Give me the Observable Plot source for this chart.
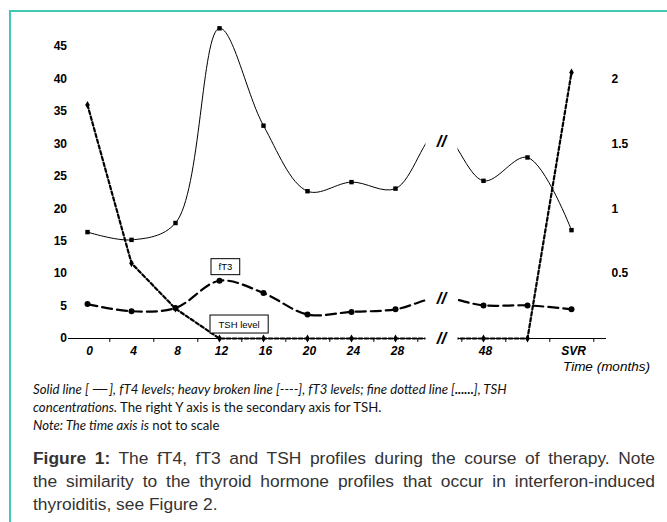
<!DOCTYPE html>
<html><head><meta charset="utf-8">
<script src="https://cdn.jsdelivr.net/npm/d3@7"></script>
<script src="https://cdn.jsdelivr.net/npm/@observablehq/plot@0.6"></script>
<style>
html,body{margin:0;padding:0;background:#fff}
body{width:667px;height:522px;overflow:hidden;position:relative;font-family:"Liberation Sans",Arial,sans-serif}
#frame{position:absolute;left:9px;top:10px;width:670px;height:530px;border-top:2px solid #40c8b4;border-left:2px solid #40c8b4;z-index:5;pointer-events:none}
#chart{position:absolute;left:0;top:0}
#xlabel{position:absolute;left:563px;top:359px;font-size:13.5px;font-style:italic;color:#000;white-space:nowrap}
#notes{position:absolute;left:33px;top:380px;font-family:Lato,"Open Sans",sans-serif;font-size:13.2px;line-height:18px;color:#111;white-space:nowrap}
#notes .dash{letter-spacing:-3px;margin-right:4px}
#caption{position:absolute;left:33px;top:447px;width:622px;font-size:17.4px;line-height:23px;color:#333}
#caption div{text-align:justify;text-align-last:justify;white-space:nowrap}
#caption div.last{text-align:left;text-align-last:left}
</style></head>
<body>
<div id="chart"></div>
<div id="xlabel">Time (months)</div>
<div id="notes">
<div><i>Solid line [ <span class="dash">——</span>], fT4 levels; heavy broken line [----], fT3 levels; fine dotted line [<b>......</b>], TSH</i></div>
<div><i>concentrations.</i> The right Y axis is the secondary axis for TSH.</div>
<div><i>Note: The time axis is</i> not to scale</div>
</div>
<div id="caption">
<div><b>Figure 1:</b> The fT4, fT3 and TSH profiles during the course of therapy. Note</div>
<div>the similarity to the thyroid hormone profiles that occur in interferon-induced</div>
<div class="last">thyroiditis, see Figure 2.</div>
</div>
<div id="frame"></div>
<script>
// Time points (ordinal, not to scale); "gap" is the axis break
const months = ["0","4","8","12","16","20","24","28","gap","48","52","SVR"];
const monthLabels = ["0","4","8","12","16","20","24","28","","48","","SVR"];
// fT4 (left axis), solid line
const fT4 = [16.4,15.2,17.8,47.8,32.8,22.7,24.1,23.1,32,24.3,27.9,16.7];
// fT3 (left axis), heavy broken line
const fT3 = [5.3,4.2,4.7,8.9,7.0,3.7,4.1,4.5,6.3,5.1,5.1,4.5];
// TSH (right axis), fine dotted line
const tsh = [1.8,0.58,0.23,0,0,0,0,0,0,0,0,2.05];
const leftTicks = [0,5,10,15,20,25,30,35,40,45];
const rightTicks = [0.5,1,1.5,2];
const rightToLeft = 20; // 1 unit on the right axis = 20 units on the left axis
// break marker levels (left-axis units)
const breakLevels = [30.3, 6.2, 0];
// annotation boxes
const notes = [{m:"12", y:11.0, label:"fT3"},{m:"12", y:2.16, label:"TSH level"}];

const rows = months.map((m,i)=>({m, fT4:fT4[i], fT3:fT3[i], tsh:tsh[i]*rightToLeft}));
const shown = rows.filter(d=>d.m!=="gap");

const chart = Plot.plot({
  width:667, height:375,
  marginLeft:68, marginRight:61, marginTop:46, marginBottom:37,
  style:{fontFamily:"'Liberation Sans', Arial, sans-serif", fontSize:"12px", color:"#000", background:"transparent", overflow:"visible"},
  x:{type:"point", domain:months, range:[83,574], padding:0},
  y:{domain:[0,45]},
  marks:[
    Plot.ruleY([0],{stroke:"#000", strokeWidth:1}),
    Plot.ruleX(months,{x:d=>d, y1:0, y2:-0.6, dx:22.3, stroke:"#000", strokeWidth:1}),
    Plot.line(rows,{x:"m", y:"fT4", curve:"catmull-rom", stroke:"#000", strokeWidth:1}),
    Plot.line(rows,{x:"m", y:"fT3", curve:"catmull-rom", stroke:"#000", strokeWidth:2.2, strokeDasharray:"10,5"}),
    Plot.line(rows,{x:"m", y:"tsh", stroke:"#000", strokeWidth:2.2, strokeDasharray:"3.5,2.5"}),
    Plot.ruleX(["gap"],{x:d=>d, y1:-0.8, y2:36, dx:2, stroke:"#fff", strokeWidth:32}),
    Plot.dot(shown,{x:"m", y:"fT4", symbol:"square", r:2.5, fill:"#000", stroke:null}),
    Plot.dot(shown,{x:"m", y:"fT3", symbol:"circle", r:3, fill:"#000", stroke:null}),
    Plot.dot(shown,{x:"m", y:"tsh", symbol:"diamond", r:2.4, fill:"#000", stroke:null}),
    Plot.text(breakLevels,{x:()=>"gap", y:d=>d, text:()=>"//", dx:2, fontSize:17, fontWeight:"bold", fontStyle:"italic", fill:"#000"}),
    Plot.axisY({ticks:leftTicks, tickSize:0, tickPadding:1.5, fontSize:12, fontWeight:"bold", label:null}),
    Plot.text(rightTicks,{y:d=>d*rightToLeft, text:d=>String(d), frameAnchor:"right", dx:5, textAnchor:"start", fontSize:12, fontWeight:"bold"}),
    Plot.axisX({tickSize:0, tickPadding:8, tickFormat:d=>monthLabels[months.indexOf(d)], fontSize:12, fontWeight:"bold", fontStyle:"italic", label:null, dx:2}),
    Plot.text(notes,{x:"m", y:"y", text:"label", dx:-1, textAnchor:"start", fontSize:9.5, fill:"#000"})
  ]
});
document.getElementById("chart").appendChild(chart);
// draw boxes around annotation labels
d3.select(chart).selectAll("text").filter(function(){return this.textContent==="fT3"||this.textContent==="TSH level";})
  .each(function(){
    const b=this.getBBox();
    const px=this.textContent==="fT3"?7.5:8.5, py=this.textContent==="fT3"?2.5:3.5;
    d3.select(this.parentNode).insert("rect",()=>this)
      .attr("transform",this.getAttribute("transform"))
      .attr("x",b.x-px).attr("y",b.y-py).attr("width",b.width+2*px).attr("height",b.height+2*py)
      .attr("fill","#fff").attr("stroke","#000").attr("stroke-width",1);
  });
</script>
</body></html>
